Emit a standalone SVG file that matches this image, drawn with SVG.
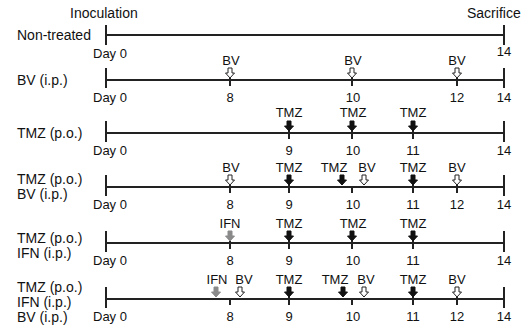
<svg xmlns="http://www.w3.org/2000/svg" width="532" height="326" viewBox="0 0 532 326">
<style>
text{font-family:"Liberation Sans",Arial,sans-serif;fill:#111}
.lbl{font-size:14px}
.num{font-size:13px;text-anchor:middle}
.day{font-size:13px}
.tag{font-size:13px;text-anchor:middle}
.ln{stroke:#222;stroke-width:2;fill:none}
.open{fill:#fff;stroke:#222;stroke-width:1}
.tmz{fill:#111;stroke:#111;stroke-width:1}
.ifn{fill:#8a8a8a;stroke:#8a8a8a;stroke-width:1}
</style>
<defs>
<path id="arr" d="M-2,-10 H2 V-5 H4.5 L0,0 L-4.5,-5 H-2 Z"/>
</defs>
<rect width="532" height="326" fill="#fff"/>
<text class="lbl" x="70" y="18">Inoculation</text>
<text class="lbl" x="467" y="18">Sacrifice</text>

<g id="row1">
<text class="lbl" x="17" y="40">Non-treated</text>
<path class="ln" d="M106,35 H504 M106,25 V45 M504,25 V45"/>
<text class="day" x="93" y="58">Day 0</text>
<text class="num" x="504" y="56">14</text>
</g>

<g id="row2">
<text class="lbl" x="17" y="85">BV (i.p.)</text>
<path class="ln" d="M106,80 H504 M106,68 V88 M504,68 V88 M230,78 V86 M352,78 V86 M457,78 V86"/>
<use href="#arr" class="open" x="230" y="78"/>
<use href="#arr" class="open" x="352" y="78"/>
<use href="#arr" class="open" x="457" y="78"/>
<text class="tag" x="231" y="65">BV</text>
<text class="tag" x="353" y="65">BV</text>
<text class="tag" x="457" y="65">BV</text>
<text class="day" x="93" y="102">Day 0</text>
<text class="num" x="230" y="102">8</text>
<text class="num" x="353" y="102">10</text>
<text class="num" x="457" y="102">12</text>
<text class="num" x="504" y="102">14</text>
</g>

<g id="row3">
<text class="lbl" x="17" y="138">TMZ (p.o.)</text>
<path class="ln" d="M106,133 H504 M106,121 V142 M504,121 V142 M289,130 V139 M352,130 V139 M413,130 V139"/>
<use href="#arr" class="tmz" x="289" y="131"/>
<use href="#arr" class="tmz" x="352" y="131"/>
<use href="#arr" class="tmz" x="413" y="131"/>
<text class="tag" x="289" y="117">TMZ</text>
<text class="tag" x="353" y="117">TMZ</text>
<text class="tag" x="413" y="117">TMZ</text>
<text class="day" x="93" y="155">Day 0</text>
<text class="num" x="289" y="155">9</text>
<text class="num" x="353" y="155">10</text>
<text class="num" x="413" y="155">11</text>
<text class="num" x="504" y="155">14</text>
</g>

<g id="row4">
<text class="lbl" x="17" y="184">TMZ (p.o.)</text>
<text class="lbl" x="17" y="199">BV (i.p.)</text>
<path class="ln" d="M106,187 H504 M106,175 V196 M504,175 V196 M230,185 V193 M289,184 V193 M352,187 V193 M413,184 V193 M457,185 V193"/>
<use href="#arr" class="open" x="230" y="185"/>
<use href="#arr" class="tmz" x="289" y="185"/>
<use href="#arr" class="tmz" x="342" y="185"/>
<use href="#arr" class="open" x="364" y="185"/>
<use href="#arr" class="tmz" x="413" y="185"/>
<use href="#arr" class="open" x="457" y="185"/>
<text class="tag" x="231" y="172">BV</text>
<text class="tag" x="289" y="172">TMZ</text>
<text class="tag" x="334" y="172">TMZ</text>
<text class="tag" x="367" y="172">BV</text>
<text class="tag" x="413" y="172">TMZ</text>
<text class="tag" x="457" y="172">BV</text>
<text class="day" x="93" y="209">Day 0</text>
<text class="num" x="230" y="209">8</text>
<text class="num" x="289" y="209">9</text>
<text class="num" x="353" y="209">10</text>
<text class="num" x="413" y="209">11</text>
<text class="num" x="457" y="209">12</text>
<text class="num" x="504" y="209">14</text>
</g>

<g id="row5">
<text class="lbl" x="17" y="243">TMZ (p.o.)</text>
<text class="lbl" x="17" y="258">IFN (i.p.)</text>
<path class="ln" d="M106,243 H504 M106,231 V252 M504,231 V252 M230,241 V249 M289,240 V249 M352,240 V249 M413,240 V249"/>
<use href="#arr" class="ifn" x="230" y="241"/>
<use href="#arr" class="tmz" x="289" y="241"/>
<use href="#arr" class="tmz" x="352" y="241"/>
<use href="#arr" class="tmz" x="413" y="241"/>
<text class="tag" x="230" y="228">IFN</text>
<text class="tag" x="289" y="228">TMZ</text>
<text class="tag" x="353" y="228">TMZ</text>
<text class="tag" x="413" y="228">TMZ</text>
<text class="day" x="93" y="265">Day 0</text>
<text class="num" x="230" y="265">8</text>
<text class="num" x="289" y="265">9</text>
<text class="num" x="353" y="265">10</text>
<text class="num" x="413" y="265">11</text>
<text class="num" x="504" y="265">14</text>
</g>

<g id="row6">
<text class="lbl" x="17" y="292">TMZ (p.o.)</text>
<text class="lbl" x="17" y="307">IFN (i.p.)</text>
<text class="lbl" x="17" y="322">BV (i.p.)</text>
<path class="ln" d="M106,299 H504 M106,287 V308 M504,287 V308 M230,299 V305 M289,296 V305 M352,299 V305 M413,296 V305 M457,297 V305"/>
<use href="#arr" class="ifn" x="216" y="297"/>
<use href="#arr" class="open" x="240" y="297"/>
<use href="#arr" class="tmz" x="289" y="297"/>
<use href="#arr" class="tmz" x="343" y="297"/>
<use href="#arr" class="open" x="364" y="297"/>
<use href="#arr" class="tmz" x="413" y="297"/>
<use href="#arr" class="open" x="457" y="297"/>
<text class="tag" x="217" y="284">IFN</text>
<text class="tag" x="244" y="284">BV</text>
<text class="tag" x="289" y="284">TMZ</text>
<text class="tag" x="335" y="284">TMZ</text>
<text class="tag" x="366" y="284">BV</text>
<text class="tag" x="413" y="284">TMZ</text>
<text class="tag" x="457" y="284">BV</text>
<text class="day" x="93" y="321">Day 0</text>
<text class="num" x="230" y="321">8</text>
<text class="num" x="289" y="321">9</text>
<text class="num" x="353" y="321">10</text>
<text class="num" x="413" y="321">11</text>
<text class="num" x="457" y="321">12</text>
<text class="num" x="504" y="321">14</text>
</g>
</svg>
